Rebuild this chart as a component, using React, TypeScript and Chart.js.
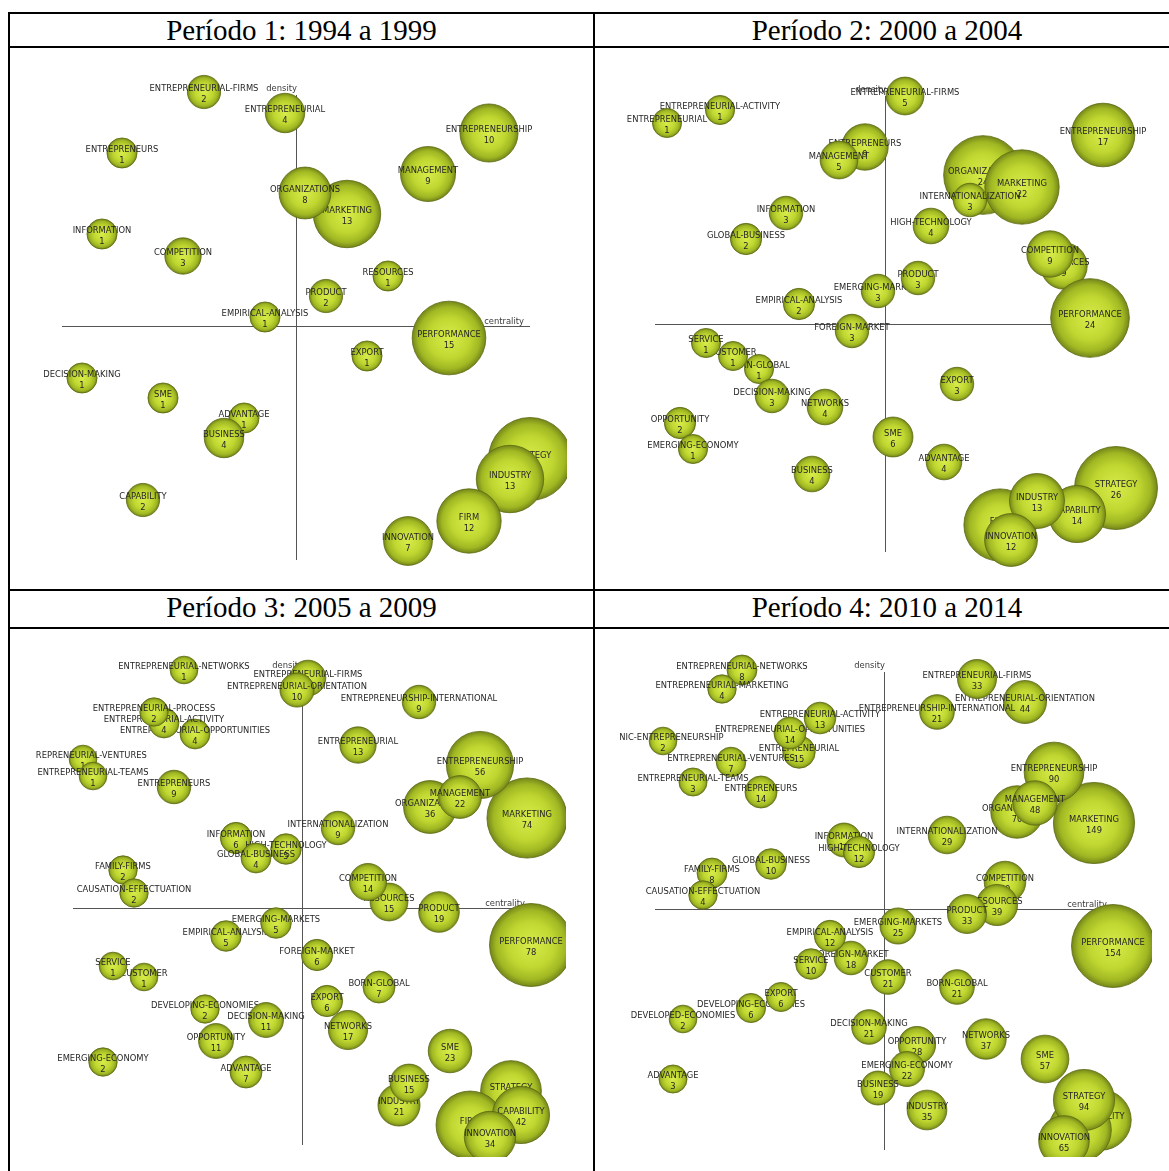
import React, { useEffect, useRef } from "react";
import { Chart, registerables } from "chart.js";

Chart.register(...registerables);

// ---------------- Período 1: 1994 a 1999 ----------------
const p1Themes = [
  "ENTREPRENEURIAL-FIRMS", "ENTREPRENEURIAL", "ENTREPRENEURS", "ENTREPRENEURSHIP", "MANAGEMENT",
  "MARKETING", "ORGANIZATIONS", "INFORMATION", "COMPETITION", "RESOURCES", "PRODUCT",
  "EMPIRICAL-ANALYSIS", "PERFORMANCE", "EXPORT", "DECISION-MAKING", "SME", "ADVANTAGE",
  "BUSINESS", "CAPABILITY", "STRATEGY", "INDUSTRY", "FIRM", "INNOVATION",
];
const p1Docs = [2, 4, 1, 10, 9, 13, 8, 1, 3, 1, 2, 1, 15, 1, 1, 1, 1, 4, 2, 18, 13, 12, 7];
const p1Centrality = [-92, -11, -174, 193, 132, 51, 9, -194, -113, 92, 30, -31, 153, 71, -214, -133, -52, -72, -153, 234, 214, 173, 112];
const p1Density = [234, 213, 173, 193, 152, 112, 133, 92, 70, 50, 30, 9, -12, -30, -52, -72, -92, -112, -174, -133, -153, -195, -215];

// ---------------- Período 2: 2000 a 2004 ----------------
const p2Themes = [
  "ENTREPRENEURIAL-ACTIVITY", "ENTREPRENEURIAL", "ENTREPRENEURIAL-FIRMS", "ENTREPRENEURSHIP",
  "ENTREPRENEURS", "MANAGEMENT", "ORGANIZATIONS", "MARKETING", "INTERNATIONALIZATION",
  "INFORMATION", "HIGH-TECHNOLOGY", "GLOBAL-BUSINESS", "RESOURCES", "COMPETITION",
  "EMERGING-MARKETS", "PRODUCT", "EMPIRICAL-ANALYSIS", "PERFORMANCE", "FOREIGN-MARKET",
  "BORN-GLOBAL", "CUSTOMER", "SERVICE", "DECISION-MAKING", "NETWORKS", "EXPORT",
  "OPPORTUNITY", "EMERGING-ECONOMY", "SME", "ADVANTAGE", "BUSINESS", "FIRM", "STRATEGY",
  "CAPABILITY", "INDUSTRY", "INNOVATION",
];
const p2Docs = [1, 1, 5, 17, 9, 5, 24, 22, 3, 3, 4, 2, 9, 9, 3, 3, 2, 24, 3, 1, 1, 1, 3, 4, 3, 2, 1, 6, 4, 4, 21, 26, 14, 13, 12];
const p2Centrality = [-165, -218, 20, 218, -20, -46, 98, 137, 85, -99, 46, -139, 179, 165, -7, 33, -86, 205, -33, -126, -152, -179, -113, -60, 72, -205, -192, 8, 59, -73, 115, 231, 192, 152, 126];
const p2Density = [214, 201, 228, 189, 177, 164, 149, 137, 124, 111, 98, 85, 58, 70, 33, 46, 20, 6, -7, -45, -32, -19, -72, -83, -60, -99, -125, -113, -138, -150, -201, -164, -190, -177, -216];

// ---------------- Período 3: 2005 a 2009 ----------------
const p3Themes = [
  "ENTREPRENEURIAL-NETWORKS", "ENTREPRENEURIAL-FIRMS", "ENTREPRENEURIAL-ORIENTATION",
  "ENTREPRENEURSHIP-INTERNATIONAL", "ENTREPRENEURIAL-OPPORTUNITIES", "ENTREPRENEURIAL-ACTIVITY",
  "ENTREPRENEURIAL-PROCESS", "ENTREPRENEURIAL", "ENTREPRENEURIAL-VENTURES", "ENTREPRENEURIAL-TEAMS",
  "ENTREPRENEURS", "MARKETING", "ENTREPRENEURSHIP", "ORGANIZATIONS", "MANAGEMENT",
  "INTERNATIONALIZATION", "INFORMATION", "HIGH-TECHNOLOGY", "GLOBAL-BUSINESS", "FAMILY-FIRMS",
  "CAUSATION-EFFECTUATION", "RESOURCES", "COMPETITION", "PRODUCT", "PERFORMANCE",
  "EMPIRICAL-ANALYSIS", "EMERGING-MARKETS", "FOREIGN-MARKET", "CUSTOMER", "SERVICE",
  "BORN-GLOBAL", "EXPORT", "DEVELOPING-ECONOMIES", "DECISION-MAKING", "NETWORKS", "OPPORTUNITY",
  "EMERGING-ECONOMY", "ADVANTAGE", "SME", "INDUSTRY", "BUSINESS", "STRATEGY", "FIRM",
  "CAPABILITY", "INNOVATION",
];
const p3Docs = [1, 12, 10, 9, 4, 4, 2, 13, 1, 1, 9, 74, 56, 36, 22, 9, 6, 5, 4, 2, 2, 15, 14, 19, 78, 5, 5, 6, 1, 1, 7, 6, 2, 11, 17, 11, 2, 7, 23, 21, 15, 47, 57, 42, 34];
const p3Centrality = [-118, 6, -5, 117, -107, -138, -148, 56, -219, -209, -128, 225, 178, 128, 158, 36, -66, -16, -46, -179, -168, 87, 66, 137, 229, -76, -26, 15, -158, -189, 77, 25, -97, -36, 46, -86, -199, -56, 148, 97, 107, 209, 168, 219, 188];
const p3Density = [238, 230, 218, 206, 174, 185, 196, 163, 149, 132, 121, 90, 143, 101, 111, 80, 70, 59, 50, 38, 15, 6, 26, -4, -37, -28, -15, -47, -69, -58, -79, -93, -101, -112, -122, -133, -154, -164, -143, -197, -175, -183, -217, -207, -229];

// ---------------- Período 4: 2010 a 2014 ----------------
const p4Themes = [
  "ENTREPRENEURIAL-NETWORKS", "ENTREPRENEURIAL-MARKETING", "ENTREPRENEURIAL-ORIENTATION",
  "ENTREPRENEURIAL-FIRMS", "ENTREPRENEURSHIP-INTERNATIONAL", "ENTREPRENEURIAL",
  "ENTREPRENEURIAL-OPPORTUNITIES", "ENTREPRENEURIAL-ACTIVITY", "ETHNIC-ENTREPRENEURSHIP",
  "ENTREPRENEURIAL-VENTURES", "ENTREPRENEURIAL-TEAMS", "ENTREPRENEURS", "MARKETING",
  "ENTREPRENEURSHIP", "ORGANIZATIONS", "MANAGEMENT", "INTERNATIONALIZATION", "INFORMATION",
  "HIGH-TECHNOLOGY", "GLOBAL-BUSINESS", "FAMILY-FIRMS", "CAUSATION-EFFECTUATION", "COMPETITION",
  "RESOURCES", "PRODUCT", "PERFORMANCE", "EMERGING-MARKETS", "FOREIGN-MARKET",
  "EMPIRICAL-ANALYSIS", "SERVICE", "CUSTOMER", "BORN-GLOBAL", "DEVELOPING-ECONOMIES", "EXPORT",
  "DEVELOPED-ECONOMIES", "DECISION-MAKING", "OPPORTUNITY", "EMERGING-ECONOMY", "NETWORKS", "SME",
  "ADVANTAGE", "BUSINESS", "INDUSTRY", "CAPABILITY", "FIRM", "STRATEGY", "INNOVATION",
];
const p4Docs = [8, 4, 44, 33, 21, 15, 14, 13, 2, 7, 3, 14, 149, 90, 70, 48, 29, 19, 12, 10, 8, 4, 40, 39, 33, 154, 25, 18, 12, 10, 21, 21, 6, 6, 2, 21, 28, 22, 37, 57, 3, 19, 35, 92, 98, 94, 65];
const p4Centrality = [-142, -162, 141, 93, 53, -85, -94, -64, -221, -153, -191, -123, 210, 170, 133, 151, 63, -40, -25, -113, -172, -181, 121, 113, 83, 229, 14, -33, -54, -73, 4, 73, -133, -103, -201, -15, 33, 23, 102, 161, -211, -6, 43, 217, 196, 200, 180];
const p4Density = [239, 220, 207, 230, 197, 157, 176, 191, 168, 147, 127, 117, 86, 137, 97, 106, 74, 69, 57, 45, 36, 14, 27, 4, -5, -37, -17, -49, -27, -55, -68, -78, -99, -88, -110, -118, -136, -160, -130, -150, -170, -179, -201, -211, -221, -191, -232];

// ---------------- layout ----------------
const LABEL_FONT = "8.4px 'DejaVu Sans', Verdana, sans-serif";

type PanelDef = {
  themes: string[];
  docs: number[];
  centrality: number[];
  density: number[];
  rect: { left: number; top: number; width: number; height: number };
  origin: { x: number; y: number };
  hSpan: [number, number];
  vSpan: [number, number];
};

const panels: PanelDef[] = [
  { themes: p1Themes, docs: p1Docs, centrality: p1Centrality, density: p1Density,
    rect: { left: 10, top: 48, width: 557, height: 541 }, origin: { x: 296, y: 326 },
    hSpan: [-234, 234], vSpan: [-234, 231] },
  { themes: p2Themes, docs: p2Docs, centrality: p2Centrality, density: p2Density,
    rect: { left: 595, top: 48, width: 566, height: 541 }, origin: { x: 885, y: 324 },
    hSpan: [-230, 230], vSpan: [-228, 228] },
  { themes: p3Themes, docs: p3Docs, centrality: p3Centrality, density: p3Density,
    rect: { left: 36, top: 629, width: 530, height: 528 }, origin: { x: 302, y: 908 },
    hSpan: [-229, 229], vSpan: [-237, 236] },
  { themes: p4Themes, docs: p4Docs, centrality: p4Centrality, density: p4Density,
    rect: { left: 620, top: 629, width: 532, height: 528 }, origin: { x: 884, y: 909 },
    hSpan: [-229, 229], vSpan: [-241, 237] },
];

const quadrantPlugin = {
  id: "quadrants",
  beforeDatasetsDraw(chart: any, _a: any, opts: any) {
    const { ctx, scales } = chart;
    const xs = scales.x, ys = scales.y;
    const x0 = xs.getPixelForValue(0), y0 = ys.getPixelForValue(0);
    const hl = xs.getPixelForValue(opts.h[0]), hr = xs.getPixelForValue(opts.h[1]);
    const vb = ys.getPixelForValue(opts.v[0]), vt = ys.getPixelForValue(opts.v[1]);
    ctx.save();
    ctx.strokeStyle = "#555555";
    ctx.lineWidth = 1;
    ctx.beginPath();
    ctx.moveTo(hl, Math.round(y0) + 0.5);
    ctx.lineTo(hr, Math.round(y0) + 0.5);
    ctx.moveTo(Math.round(x0) + 0.5, vt);
    ctx.lineTo(Math.round(x0) + 0.5, vb);
    ctx.stroke();
    ctx.font = LABEL_FONT;
    ctx.fillStyle = "#3a3a3a";
    ctx.textAlign = "right";
    ctx.textBaseline = "middle";
    ctx.fillText("density", x0 + 1, vt - 6);
    ctx.fillText("centrality", hr - 6, y0 - 4);
    ctx.restore();
  },
};

const labelPlugin = {
  id: "themeLabels",
  afterDatasetDraw(chart: any, args: any) {
    const ds = chart.data.datasets[args.index];
    const el = args.meta.data[0];
    if (!el) return;
    const ctx = chart.ctx;
    ctx.save();
    ctx.font = LABEL_FONT;
    ctx.fillStyle = "#262626";
    ctx.textAlign = "center";
    ctx.textBaseline = "middle";
    ctx.fillText(ds.label, el.x, el.y - 3);
    ctx.fillText(String(ds.docs), el.x, el.y + 8);
    ctx.restore();
  },
};

function bubbleFill(c: any) {
  const chart = c.chart;
  const raw = c.raw;
  if (!raw || !chart.chartArea) return "#b0c82c";
  const px = chart.scales.x.getPixelForValue(raw.x);
  const py = chart.scales.y.getPixelForValue(raw.y);
  const r = raw.r;
  const g = chart.ctx.createRadialGradient(px, py, 0, px, py, r);
  g.addColorStop(0, "#d8ec4a");
  g.addColorStop(0.55, "#c0d731");
  g.addColorStop(0.84, "#a0b723");
  g.addColorStop(1, "#74851a");
  return g;
}

function Panel({ def }: { def: PanelDef }) {
  const ref = useRef<HTMLCanvasElement>(null);
  useEffect(() => {
    if (!ref.current) return;
    const { rect, origin } = def;
    const maxDocs = Math.max(...def.docs);
    const datasets = def.themes.map((name, i) => ({
      label: name,
      docs: def.docs[i],
      order: -i,
      data: [{ x: def.centrality[i], y: def.density[i], r: 13.5 + (28 * def.docs[i]) / maxDocs }],
      backgroundColor: bubbleFill,
      borderColor: "#5c690f",
      borderWidth: 0.8,
      clip: false as any,
    }));
    const chart = new Chart(ref.current, {
      type: "bubble",
      data: { datasets: datasets as any },
      options: {
        responsive: false,
        animation: false,
        devicePixelRatio: 1,
        events: [],
        layout: { padding: 0, autoPadding: false },
        scales: {
          x: { type: "linear", display: false, min: rect.left - origin.x, max: rect.left + rect.width - origin.x },
          y: { type: "linear", display: false, min: origin.y - (rect.top + rect.height), max: origin.y - rect.top },
        },
        plugins: {
          legend: { display: false },
          tooltip: { enabled: false },
          quadrants: { h: def.hSpan, v: def.vSpan },
        } as any,
      },
      plugins: [quadrantPlugin, labelPlugin],
    });
    return () => chart.destroy();
  }, [def]);
  const { rect } = def;
  return (
    <canvas
      ref={ref}
      width={rect.width}
      height={rect.height}
      style={{ position: "absolute", left: rect.left, top: rect.top, width: rect.width, height: rect.height }}
    />
  );
}

const headers = [
  { text: "Período 1: 1994 a 1999", left: 10, top: 14, width: 583 },
  { text: "Período 2: 2000 a 2004", left: 595, top: 14, width: 584 },
  { text: "Período 3: 2005 a 2009", left: 10, top: 591, width: 583 },
  { text: "Período 4: 2010 a 2014", left: 595, top: 591, width: 584 },
];

const lines = [
  { left: 8, top: 12, width: 1200, height: 2 },
  { left: 8, top: 46, width: 1200, height: 2 },
  { left: 8, top: 589, width: 1200, height: 2 },
  { left: 8, top: 627, width: 1200, height: 2 },
  { left: 8, top: 12, width: 2, height: 1200 },
  { left: 593, top: 12, width: 2, height: 1200 },
];

export default function App() {
  return (
    <div style={{ position: "absolute", left: 0, top: 0, width: 1169, height: 1171, overflow: "hidden", background: "#fff" }}>
      {lines.map((l, i) => (
        <div key={"l" + i} style={{ position: "absolute", left: l.left, top: l.top, width: l.width, height: l.height, background: "#000" }} />
      ))}
      {headers.map((h, i) => (
        <div
          key={"h" + i}
          style={{
            position: "absolute", left: h.left, top: h.top, width: h.width, height: 32,
            display: "flex", alignItems: "center", justifyContent: "center",
            fontFamily: "'Liberation Serif', 'Times New Roman', serif", fontSize: 29, color: "#000",
            lineHeight: "32px", whiteSpace: "nowrap",
          }}
        >
          {h.text}
        </div>
      ))}
      {panels.map((p, i) => (
        <Panel key={"p" + i} def={p} />
      ))}
    </div>
  );
}
